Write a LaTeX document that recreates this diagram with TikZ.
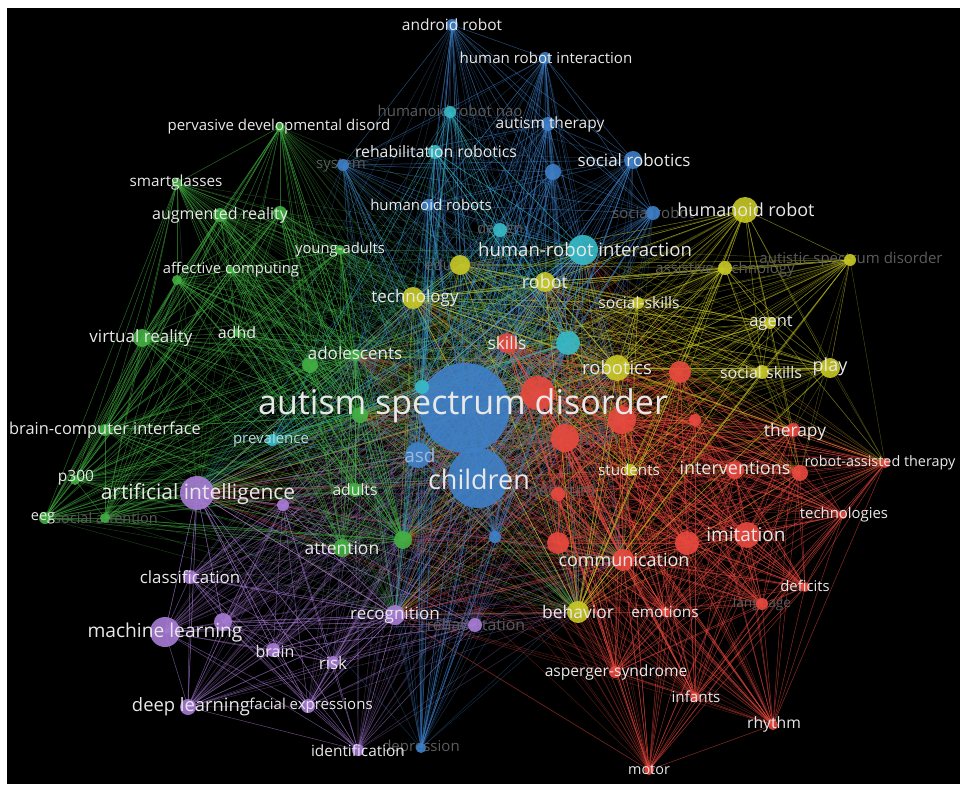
\documentclass[tikz,border=0pt]{standalone}
\usepackage{fontspec}
\setmainfont{Open Sans}
\usepackage{xcolor}
\usepackage{tikz}
\usetikzlibrary{positioning,calc}

\definecolor{vred}{RGB}{232,72,62}
\definecolor{vgreen}{RGB}{66,176,66}
\definecolor{vblue}{RGB}{62,128,200}
\definecolor{vyellow}{RGB}{200,200,36}
\definecolor{vpurple}{RGB}{168,124,214}
\definecolor{vcyan}{RGB}{54,186,200}
\definecolor{labtext}{RGB}{232,232,232}
\definecolor{labdim}{RGB}{92,92,92}

\pgfdeclarelayer{back}
\pgfsetlayers{back,main}

\begin{document}
\begin{tikzpicture}[x=1pt, y=-1pt,
    edge/.style={line width=0.5pt, draw opacity=0.34},
    lab/.style={text=labtext, inner sep=0pt, font=\fontsize{#1}{#1}\selectfont},
    lab/.default=15.5,
    dimlab/.style={text=labdim, inner sep=0pt, font=\fontsize{#1}{#1}\selectfont},
    dimlab/.default=15]
    \useasboundingbox (0,0) rectangle (960,786);
    \begin{pgfonlayer}{back}
        \fill[white] (0,0) rectangle (960,786);
        \fill[black] (7,8) rectangle (960,784);
    \end{pgfonlayer}

    % keywords: name/x/y/radius
    \foreach \n/\x/\y/\r in {r1/507/343/10, r2/538/393/17, r3/622/420/14, r4/680/372/11,
        r5/695/420/6, r6/565/438/14, r7/558/494/7, r8/558/543/11, r9/793/430/7,
        r10/735/470/9, r11/800/473/8, r12/885/463/5, r13/843/515/4, r14/747/535/13,
        r15/687/543/12, r16/623/560/11, r17/805/587/5, r18/762/604/6, r19/665/612/5,
        r20/615/672/6, r21/695/697/5, r22/773/725/5, r23/649/770/5}
        {\coordinate (\n) at (\x,\y); \fill[vred, opacity=0.9] (\n) circle (\r pt);}
    \foreach \n/\x/\y/\r in {y1/745/210/13, y2/850/260/6, y3/725/268/7, y4/460/265/10,
        y5/413/298/11, y6/545/282/10, y7/638/303/6, y8/770/323/6, y9/617/368/13,
        y10/762/372/7, y11/830/368/10, y12/630/470/6, y13/578/612/11}
        {\coordinate (\n) at (\x,\y); \fill[vyellow, opacity=0.9] (\n) circle (\r pt);}
    \foreach \n/\x/\y/\r in {b1/465/408/45, b2/478/478/30, b3/418/455/13, b4/452/25/6,
        b5/545/58/6, b6/548/124/7, b7/633/160/9, b8/553/172/8, b9/653/213/7,
        b10/343/165/6, b11/428/205/6, b12/421/748/5, b13/495/537/6}
        {\coordinate (\n) at (\x,\y); \fill[vblue, opacity=0.9] (\n) circle (\r pt);}
    \foreach \n/\x/\y/\r in {c1/583/250/15, c2/450/112/6, c3/435/152/7, c4/500/230/7,
        c5/568/343/12, c6/422/387/7, c7/272/440/6}
        {\coordinate (\n) at (\x,\y); \fill[vcyan, opacity=0.9] (\n) circle (\r pt);}
    \foreach \n/\x/\y/\r in {g1/280/127/5, g2/177/183/5, g3/220/215/7, g4/280/213/7,
        g5/340/250/5, g6/230/270/4, g7/177/280/5, g8/142/338/9, g9/237/333/4,
        g10/355/355/6, g11/310/365/8, g12/360/415/8, g13/105/430/6, g14/75/480/5,
        g15/45/518/6, g16/105/518/5, g17/355/490/7, g18/342/548/9, g19/403/540/9}
        {\coordinate (\n) at (\x,\y); \fill[vgreen, opacity=0.9] (\n) circle (\r pt);}
    \foreach \n/\x/\y/\r in {p1/197/493/17, p2/283/505/6, p3/190/577/7, p4/165/632/15,
        p5/223/622/9, p6/273/650/7, p7/333/662/6, p8/395/615/10, p9/475/625/7,
        p10/188/707/8, p11/308/706/7, p12/358/750/6}
        {\coordinate (\n) at (\x,\y); \fill[vpurple, opacity=0.9] (\n) circle (\r pt);}

    % links, behind the keywords
    \begin{pgfonlayer}{back}
    \foreach \hub in {b1,b2,b3,c1,c5,c6,y5,y6,y9,y13,r1,r2,r3,r6,r16,g10,g12,g19,p1,p8} {
        \foreach \a in {r1,r2,r3,r4,r5,r6,r7,r8,r9,r10,r11,r12,r13,r14,r15,r16,r17,r18,r19,r20,r21,r22,r23}
            \draw[edge, vred] (\a) -- (\hub);
        \foreach \a in {y1,y2,y3,y4,y5,y6,y7,y8,y9,y10,y11,y12,y13}
            \draw[edge, vyellow] (\a) -- (\hub);
        \foreach \a in {b1,b2,b3,b4,b5,b6,b7,b8,b9,b10,b11,b12,b13}
            \draw[edge, vblue] (\a) -- (\hub);
        \foreach \a in {c1,c2,c3,c4,c5,c6,c7}
            \draw[edge, vcyan] (\a) -- (\hub);
        \foreach \a in {g1,g2,g3,g4,g5,g6,g7,g8,g9,g10,g11,g12,g13,g14,g15,g16,g17,g18,g19}
            \draw[edge, vgreen] (\a) -- (\hub);
        \foreach \a in {p1,p2,p3,p4,p5,p6,p7,p8,p9,p10,p11,p12}
            \draw[edge, vpurple] (\a) -- (\hub);
    }
    % links inside each cluster
    \foreach \a in {r1,r2,r3,r4,r5,r6,r7,r8,r9,r10,r11,r12,r13,r14,r15,r16,r17,r18,r19,r20,r21,r22,r23}
        \foreach \b in {r1,r2,r3,r4,r5,r6,r7,r8,r9,r10,r11,r12,r13,r14,r15,r16,r17,r18,r19,r20,r21,r22,r23}
            \draw[edge, vred] (\a) -- (\b);
    \foreach \a in {y1,y2,y3,y4,y5,y6,y7,y8,y9,y10,y11,y12,y13}
        \foreach \b in {y1,y2,y3,y4,y5,y6,y7,y8,y9,y10,y11,y12,y13,r4,r9,r11,r12}
            \draw[edge, vyellow] (\a) -- (\b);
    \foreach \a in {b1,b2,b3,b4,b5,b6,b7,b8,b9,b10,b11,b12,b13}
        \foreach \b in {b1,b2,b3,b4,b5,b6,b7,b8,b9,b10,b11,b12,b13,c1,c2,c3,c4,c5,c6,c7}
            \draw[edge, vblue] (\a) -- (\b);
    \foreach \a in {c1,c2,c3,c4,c5,c6,c7}
        \foreach \b in {c1,c2,c3,c4,c5,c6,c7}
            \draw[edge, vcyan] (\a) -- (\b);
    \foreach \a in {g1,g2,g3,g4,g5,g6,g7,g8,g9,g10,g11,g12,g13,g14,g15,g16,g17,g18,g19}
        \foreach \b in {g1,g2,g3,g4,g5,g6,g7,g8,g9,g10,g11,g12,g13,g14,g15,g16,g17,g18,g19}
            \draw[edge, vgreen] (\a) -- (\b);
    \foreach \a in {p1,p2,p3,p4,p5,p6,p7,p8,p9,p10,p11,p12}
        \foreach \b in {p1,p2,p3,p4,p5,p6,p7,p8,p9,p10,p11,p12}
            \draw[edge, vpurple] (\a) -- (\b);

    % labels that lie behind the keywords
    \node[dimlab] (t-nao) at (450,111) {humanoid robot nao};
    \node[dimlab] (t-system) at (341,165) {system};
    \node[dimlab] (t-design) at (500,230) {design};
    \node[dimlab] (t-socrobot) at (653,213) {social robot};
    \node[dimlab] (t-educ) at (460,265) {education};
    \node[dimlab] (t-assist) at (725,270) {assistive technology};
    \node[dimlab] (t-autistic) at (851,260) {autistic spectrum disorder};
    \node[dimlab=19] (t-interv) at (565,438) {intervention};
    \node[dimlab=17] (t-spectrum) at (558,493) {spectrum};
    \node[dimlab=14.5] (t-socatt) at (106,518) {social attention};
    \node[dimlab=15.8] (t-rehab) at (476,625) {rehabilitation};
    \node[dimlab=13.7] (t-language) at (762,604) {language};
    \node[dimlab] (t-depr) at (421,748) {depression};
    \end{pgfonlayer}

    % labels
    \node[lab=15, text=labtext!70!vcyan] (t-prev) at (271,440) {prevalence};
    \node[lab=19, text=labtext!55!vblue] (t-asd2) at (420,455) {asd};

    \node[lab=34] (t-asd) at (463,406) {autism spectrum disorder};
    \node[lab=27] (t-children) at (479,479) {children};
    \node[lab] (t-android) at (452,25) {android robot};
    \node[lab=15.1] (t-hri2) at (546,58) {human robot interaction};
    \node[lab] (t-therapy2) at (550,124) {autism therapy};
    \node[lab=17] (t-socrob) at (634,160) {social robotics};
    \node[lab=15.8] (t-rehabrob) at (436,152) {rehabilitation robotics};
    \node[lab=15] (t-humrobots) at (431,205) {humanoid robots};
    \node[lab=18.6] (t-hri) at (585,250) {human-robot interaction};
    \node[lab=15] (t-pdd) at (279,127) {pervasive developmental disord};
    \node[lab=15.3] (t-smart) at (176,183) {smartglasses};
    \node[lab=16] (t-ar) at (220,215) {augmented reality};
    \node[lab=14.8] (t-young) at (340,250) {young-adults};
    \node[lab=14.8] (t-affect) at (231,270) {affective computing};
    \node[lab=17] (t-vr) at (141,338) {virtual reality};
    \node[lab=16] (t-adhd) at (237,332) {adhd};
    \node[lab=17] (t-adol) at (355,353) {adolescents};
    \node[lab=16.4] (t-bci) at (105,430) {brain-computer interface};
    \node[lab] (t-p300) at (76,478) {p300};
    \node[lab=14.6] (t-eeg) at (43,518) {eeg};
    \node[lab=15.7] (t-adults) at (355,490) {adults};
    \node[lab=17.5] (t-attention) at (342,548) {attention};
    \node[lab=21] (t-ai) at (198,494) {artificial intelligence};
    \node[lab=16.9] (t-class) at (190,577) {classification};
    \node[lab=19.2] (t-ml) at (165,633) {machine learning};
    \node[lab=16] (t-brain) at (275,651) {brain};
    \node[lab=17] (t-risk) at (333,663) {risk};
    \node[lab=17] (t-recog) at (395,615) {recognition};
    \node[lab=18.4] (t-deep) at (191,707) {deep learning};
    \node[lab=15] (t-facial) at (311,706) {facial expressions};
    \node[lab=15.4] (t-ident) at (358,751) {identification};
    \node[lab=18] (t-humrobot) at (746,210) {humanoid robot};
    \node[lab=17] (t-tech) at (415,298) {technology};
    \node[lab=18] (t-robot) at (545,282) {robot};
    \node[lab=15.7] (t-socskills2) at (639,303) {social-skills};
    \node[lab=16.5] (t-agent) at (771,323) {agent};
    \node[lab=18.5] (t-robotics) at (617,368) {robotics};
    \node[lab=16] (t-socskills) at (761,372) {social skills};
    \node[lab=18] (t-play) at (830,367) {play};
    \node[lab=15.2] (t-students) at (629,470) {students};
    \node[lab=17.5] (t-behavior) at (578,612) {behavior};
    \node[lab=17.4] (t-skills) at (507,343) {skills};
    \node[lab=17.4] (t-therapy) at (795,432) {therapy};
    \node[lab=18] (t-interventions) at (735,468) {interventions};
    \node[lab=14.4] (t-rat) at (880,463) {robot-assisted therapy};
    \node[lab=14.9] (t-technologies) at (844,515) {technologies};
    \node[lab=19] (t-imitation) at (746,535) {imitation};
    \node[lab=18] (t-comm) at (624,560) {communication};
    \node[lab=14.8] (t-deficits) at (805,586) {deficits};
    \node[lab=15.3] (t-emotions) at (665,612) {emotions};
    \node[lab=15.6] (t-asperger) at (616,672) {asperger-syndrome};
    \node[lab=15.2] (t-infants) at (696,697) {infants};
    \node[lab=15.7] (t-rhythm) at (774,724) {rhythm};
    \node[lab=14.4] (t-motor) at (649,770) {motor};
\end{tikzpicture}
\end{document}
